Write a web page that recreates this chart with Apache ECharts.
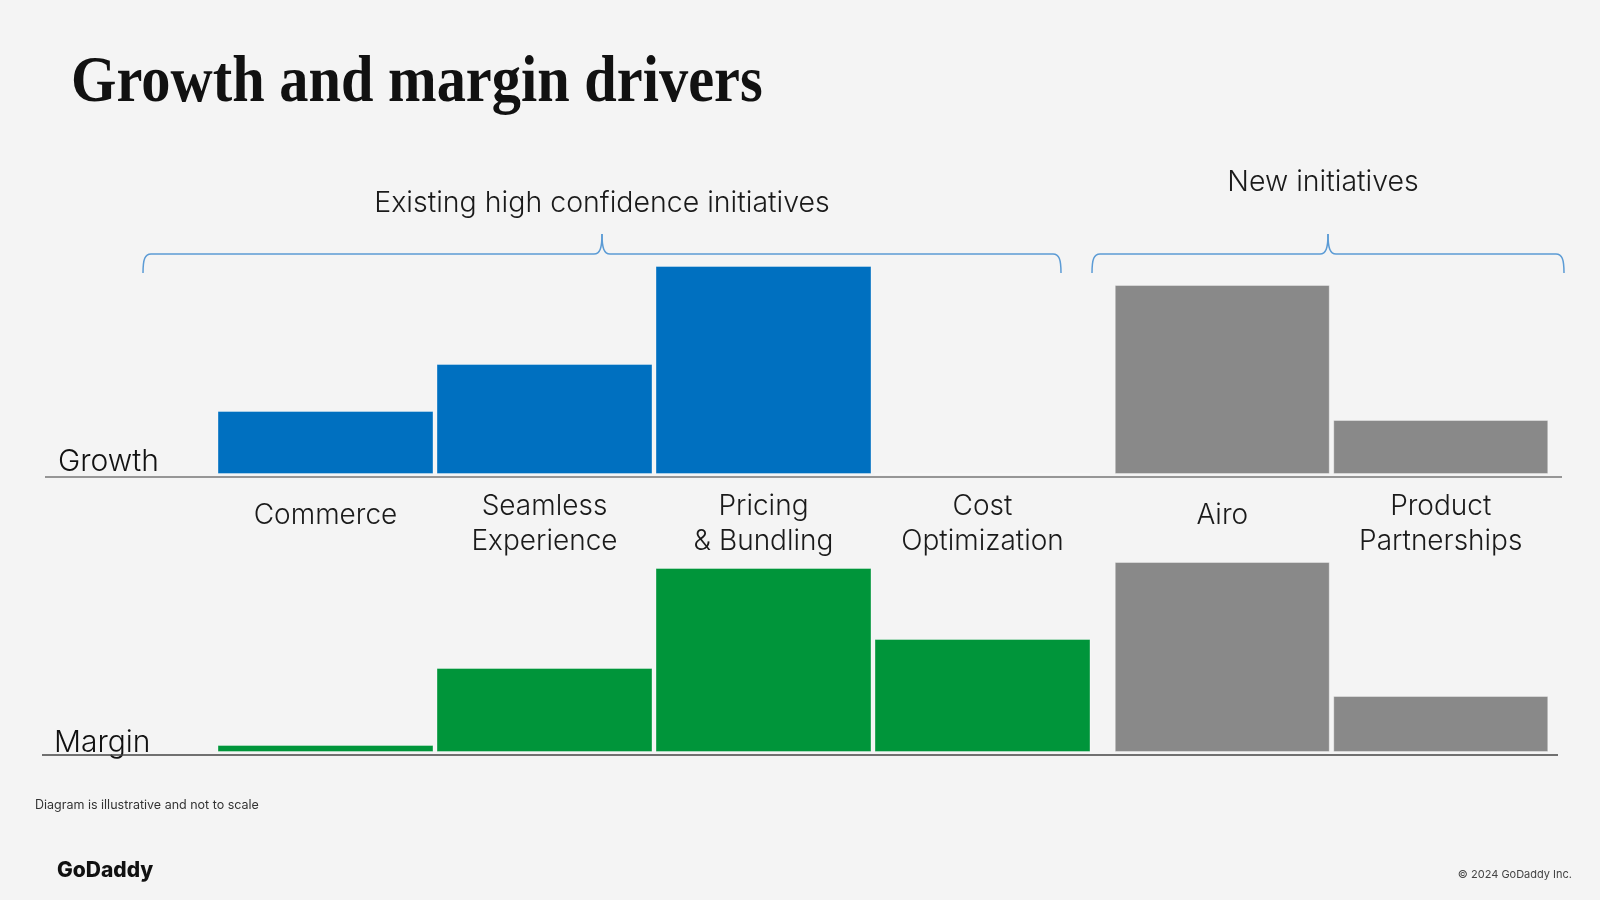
<!DOCTYPE html>
<html>
<head>
<meta charset="utf-8">
<title>Growth and margin drivers</title>
<script src="https://cdn.jsdelivr.net/npm/echarts@6/dist/echarts.min.js"></script>
</head>
<body style="margin:0;background:#f4f4f4">
<div id="main" style="width:1600px;height:900px"></div>
<script>
// categories, split in two groups (existing / new initiatives)
var existingCats = ['Commerce', 'Seamless\nExperience', 'Pricing\n& Bundling', 'Cost\nOptimization'];
var newCats = ['Airo', 'Product\nPartnerships'];

// bar heights (illustrative, not to scale)
var growthExisting = [63, 110, 208, 0];
var growthNew = [189, 54];
var marginExisting = [7, 84, 184, 113];
var marginNew = [190, 56];

var groupTitles = ['Existing high confidence initiatives', 'New initiatives'];
var rowNames = ['Growth', 'Margin'];

var FONT = 'Inter, "Noto Sans", sans-serif';
var BLUE = '#0070c0', GREEN = '#00953a', GRAY = '#898989';

// curly brace made of lines and curves
function brace(x1, x2, xt) {
    var yb = 254, ye = 273, yt = 234;
    var st = { stroke: '#5b9bd5', lineWidth: 1.5, fill: 'none' };
    return [
        { type: 'bezierCurve', silent: true, shape: { x1: x1, y1: ye, cpx1: x1, cpy1: yb + 5, cpx2: x1 + 2, cpy2: yb, x2: x1 + 8, y2: yb }, style: st },
        { type: 'line', silent: true, shape: { x1: x1 + 8, y1: yb, x2: xt - 8, y2: yb }, style: st },
        { type: 'bezierCurve', silent: true, shape: { x1: xt - 8, y1: yb, cpx1: xt - 2, cpy1: yb, cpx2: xt, cpy2: yb - 6, x2: xt, y2: yt }, style: st },
        { type: 'bezierCurve', silent: true, shape: { x1: xt, y1: yt, cpx1: xt, cpy1: yb - 6, cpx2: xt + 2, cpy2: yb, x2: xt + 8, y2: yb }, style: st },
        { type: 'line', silent: true, shape: { x1: xt + 8, y1: yb, x2: x2 - 8, y2: yb }, style: st },
        { type: 'bezierCurve', silent: true, shape: { x1: x2 - 8, y1: yb, cpx1: x2 - 2, cpy1: yb, cpx2: x2, cpy2: yb + 5, x2: x2, y2: ye }, style: st }
    ];
}

function txt(x, y, text, font, fill, align) {
    return {
        type: 'text', x: x, y: y, silent: true,
        style: {
            text: text, font: font, fill: fill,
            textAlign: align || 'left', align: align || 'left',
            textVerticalAlign: 'middle', verticalAlign: 'middle'
        }
    };
}

var labelStyle = {
    show: true,
    interval: 0,
    margin: 15,
    color: '#1a1a1a',
    fontFamily: FONT,
    fontWeight: 300,
    fontSize: 28,
    lineHeight: 35,
    formatter: function (v) {
        return v.indexOf('\n') < 0 ? '{one|' + v + '}' : v;
    },
    rich: { one: { fontFamily: FONT, fontWeight: 300, fontSize: 28, lineHeight: 53, color: '#1a1a1a' } }
};

function xAx(idx, cats, showLabel) {
    return {
        type: 'category', gridIndex: idx, data: cats,
        axisLine: { show: false }, axisTick: { show: false },
        axisLabel: showLabel ? labelStyle : { show: false },
        splitLine: { show: false }
    };
}
function yAx(idx, max) {
    return { type: 'value', gridIndex: idx, min: 0, max: max, show: false, splitLine: { show: false } };
}
function bars(idx, data, color, width) {
    return {
        type: 'bar', xAxisIndex: idx, yAxisIndex: idx, data: data, barWidth: width,
        itemStyle: { color: color, borderColor: 'rgba(255,255,255,0.35)', borderWidth: 1 },
        silent: true
    };
}

var graphics = []
    .concat(brace(143, 1061, 602))
    .concat(brace(1092, 1564, 1328))
    .concat([
        { type: 'text', x: 71, y: 84, scaleX: 0.885, silent: true,
          style: { text: 'Growth and margin drivers', font: 'bold 66px "Liberation Serif", serif', fill: '#111',
                   textAlign: 'left', align: 'left', textVerticalAlign: 'middle', verticalAlign: 'middle' } },
        txt(602, 203, groupTitles[0], '300 28.5px ' + FONT, '#1a1a1a', 'center'),
        txt(1323, 182, groupTitles[1], '300 28.5px ' + FONT, '#1a1a1a', 'center'),
        txt(58, 462, rowNames[0], '300 30px ' + FONT, '#111', 'left'),
        txt(54, 743, rowNames[1], '300 30px ' + FONT, '#111', 'left'),
        { type: 'line', silent: true, shape: { x1: 45, y1: 477, x2: 1562, y2: 477 }, style: { stroke: '#777', lineWidth: 1.5 } },
        { type: 'line', silent: true, shape: { x1: 42, y1: 755, x2: 1558, y2: 755 }, style: { stroke: '#444', lineWidth: 1.5 } },
        txt(35, 805, 'Diagram is illustrative and not to scale', '12.5px ' + FONT, '#333', 'left'),
        txt(57, 871, 'GoDaddy', '800 21px ' + FONT, '#111', 'left'),
        txt(1572, 875, '\u00a9 2024 GoDaddy Inc.', '11px ' + FONT, '#444', 'right')
    ]);

var option = {
    backgroundColor: '#f4f4f4',
    animation: false,
    textStyle: { fontFamily: FONT },
    grid: [
        { left: 216, top: 254, width: 876, height: 220 },
        { left: 1113, top: 254, width: 437, height: 220 },
        { left: 216, top: 552, width: 876, height: 200 },
        { left: 1113, top: 552, width: 437, height: 200 }
    ],
    xAxis: [
        xAx(0, existingCats, true),
        xAx(1, newCats, true),
        xAx(2, existingCats, false),
        xAx(3, newCats, false)
    ],
    yAxis: [yAx(0, 220), yAx(1, 220), yAx(2, 200), yAx(3, 200)],
    series: [
        bars(0, growthExisting, BLUE, 216),
        bars(1, growthNew, GRAY, 215),
        bars(2, marginExisting, GREEN, 216),
        bars(3, marginNew, GRAY, 215)
    ],
    graphic: graphics
};

var myChart = echarts.init(document.getElementById('main'));
myChart.setOption(option);
</script>
</body>
</html>
